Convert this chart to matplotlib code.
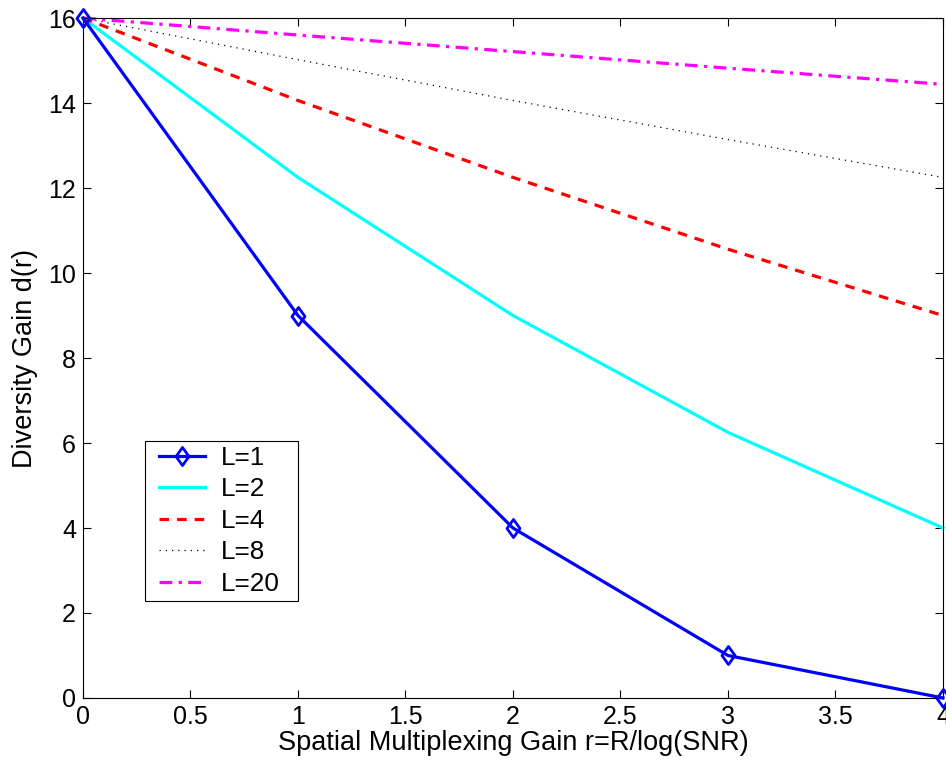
import matplotlib
matplotlib.use("Agg")
import matplotlib.pyplot as plt
from matplotlib.patches import Rectangle
from matplotlib.path import Path

plt.rcParams['font.family'] = ['Liberation Sans', 'DejaVu Sans']

r = [0, 1, 2, 3, 4]
d_L1 = [16, 9, 4, 1, 0]
d_L2 = [16, 12.25, 9, 6.25, 4]
d_L4 = [16, 14.06, 12.25, 10.56, 9]
d_L8 = [16, 15.02, 14.06, 13.14, 12.25]
d_L20 = [16, 15.60, 15.21, 14.82, 14.44]
labels = ['L=1', 'L=2', 'L=4', 'L=8', 'L=20']

# MATLAB-like diamond marker (slightly taller than wide)
diamond = Path([(0, 1), (0.72, 0), (0, -1), (-0.72, 0), (0, 1)],
               [Path.MOVETO, Path.LINETO, Path.LINETO, Path.LINETO, Path.CLOSEPOLY])

fig = plt.figure(figsize=(9.46, 7.74), dpi=100)
ax = fig.add_axes([0.0877, 0.0982, 0.9091, 0.8785])

ax.plot(r, d_L1, color='#0000ff', lw=2.3, marker=diamond, markersize=13,
        markerfacecolor='none', markeredgewidth=2.0, label=labels[0], clip_on=False, zorder=5)
ax.plot(r, d_L2, color='#00ffff', lw=2.3, label=labels[1], clip_on=False)
ax.plot(r, d_L4, color='#ff0000', lw=2.3, ls=(0, (3, 2.5)), label=labels[2], clip_on=False)
ax.plot(r, d_L8, color='black', lw=0.9, ls=(0, (1, 4)), label=labels[3], clip_on=False)
ax.plot(r, d_L20, color='#ff00ff', lw=2.3, ls=(0, (4, 2, 1, 2)), label=labels[4], clip_on=False)

ax.set_xlim(0, 4)
ax.set_ylim(0, 16)
ax.set_xticks([0, 0.5, 1, 1.5, 2, 2.5, 3, 3.5, 4])
ax.set_xticklabels(['0', '0.5', '1', '1.5', '2', '2.5', '3', '3.5', '4'])
ax.set_yticks([0, 2, 4, 6, 8, 10, 12, 14, 16])
ax.tick_params(direction='in', top=True, right=True, labelsize=18, length=6, width=0.8, pad=5)
for s in ax.spines.values():
    s.set_linewidth(0.8)

ax.set_xlabel('Spatial Multiplexing Gain r=R/log(SNR)', fontsize=19.5, labelpad=1)
ax.set_ylabel('Diversity Gain d(r)', fontsize=19.5, labelpad=7)

leg = ax.legend(loc='lower left', bbox_to_anchor=(0.0884, 0.150), fontsize=18.8,
                frameon=False, handlelength=1.75, borderpad=0, labelspacing=0.29,
                handletextpad=0.62, borderaxespad=0)
leg.set_zorder(6)

# legend frame with MATLAB-like asymmetric padding
fig.canvas.draw()
bb = leg.get_window_extent()
W, H = fig.bbox.width, fig.bbox.height
x0 = (bb.x0 - 14) / W
x1 = (bb.x1 + 18) / W
y0 = (bb.y0 - 5) / H
y1 = (bb.y1 + 5) / H
frame = Rectangle((x0, y0), x1 - x0, y1 - y0, transform=fig.transFigure,
                  facecolor='white', edgecolor='black', lw=0.8, zorder=5.5, clip_on=False)
ax.add_artist(frame)

fig.savefig('out.png', dpi=100)
